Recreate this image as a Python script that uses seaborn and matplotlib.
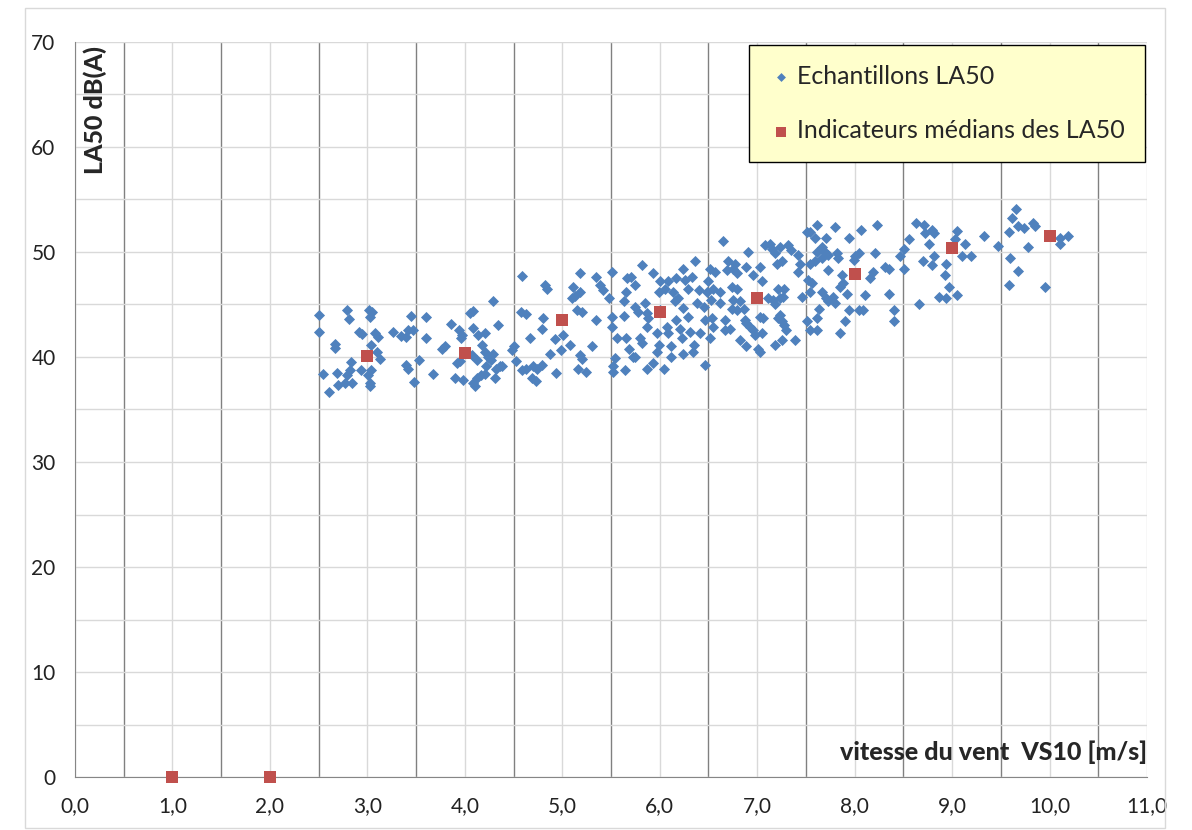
import matplotlib
matplotlib.use("Agg")
import matplotlib.pyplot as plt
import matplotlib.patches as patches
from matplotlib.ticker import FuncFormatter, MultipleLocator
import pandas as pd
import seaborn as sns

# wind speed (m/s) and LA50 samples
vs10 = [
    2.50, 2.50, 2.79, 2.81, 2.67, 2.67, 2.91, 2.94, 3.02, 3.05, 3.03, 3.08, 3.11, 3.04, 3.10, 3.13,
    2.83, 2.82, 2.93, 3.04, 3.01, 2.54, 2.69, 2.79, 2.61, 2.70, 2.77, 2.84, 3.03, 3.03, 3.26, 3.35,
    3.40, 3.42, 3.47, 3.45, 3.60, 3.60, 3.40, 3.42, 3.53, 3.48, 3.67, 3.86, 3.77, 3.80, 3.94, 3.97,
    3.96, 4.05, 4.08, 4.08, 4.14, 4.21, 4.29, 4.34, 3.95, 3.92, 3.90, 3.98, 4.07, 4.12, 4.18, 4.21,
    4.24, 4.29, 4.27, 4.36, 4.32, 4.22, 4.17, 4.12, 4.08, 4.10, 4.31, 4.21,
    4.59, 4.82, 4.84, 4.58, 4.63, 4.67, 4.50, 4.48, 4.53, 4.38, 4.59, 4.63, 4.70, 4.74, 4.79, 4.69,
    4.73, 4.79, 4.80, 4.87, 4.93, 5.01, 4.99, 5.08, 4.94, 5.10, 5.13, 5.11, 5.18, 5.18, 5.15, 5.20,
    5.18, 5.20, 5.16, 5.24, 5.30, 5.35, 5.35, 5.39, 5.42, 5.48, 5.51, 5.51, 5.51, 5.56, 5.54, 5.52,
    5.52, 5.64, 5.65, 5.68, 5.63, 5.63, 5.65, 5.66, 5.71, 5.75, 5.75, 5.73, 5.80, 5.82, 5.75, 5.78,
    5.85, 5.87, 5.88, 5.87, 5.82, 5.93, 5.87, 5.93, 5.97, 5.99, 5.97, 6.04, 6.00, 6.05, 5.99, 6.09,
    6.00, 6.07, 6.09, 6.12, 6.12, 6.17, 6.21, 6.23, 6.24, 6.16, 6.14, 6.19, 6.24, 6.17, 6.24, 6.26,
    6.29, 6.33, 6.36, 6.29, 6.31, 6.35, 6.34, 6.41, 6.38, 6.40,
    6.65, 6.46, 6.52, 6.57, 6.50, 6.55, 6.48, 6.62, 6.53, 6.62, 6.45, 6.46, 6.54, 6.55, 6.52, 6.67,
    6.72, 6.67, 6.70, 6.69, 6.75, 6.77, 6.79, 6.74, 6.79, 6.75, 6.82, 6.74, 6.79, 6.86, 6.89, 6.91,
    6.96, 7.03, 7.05, 6.88, 6.89, 6.93, 6.96, 7.05, 6.98, 7.03, 7.06, 6.82, 6.89, 7.01, 7.03, 7.08,
    7.13, 7.15, 7.18, 7.23, 7.20, 7.25, 7.11, 7.16, 7.23, 7.18, 7.27, 7.21, 7.28, 7.23, 7.21, 7.25,
    7.28, 7.30, 7.18, 7.25, 7.39, 7.32, 7.35, 7.42, 7.44, 7.42, 7.46, 7.51, 7.54, 7.61, 7.51, 7.54,
    7.59, 7.61, 7.66, 7.61, 7.70, 7.59, 7.66, 7.54, 7.71, 7.73, 7.52, 7.56, 7.54, 7.66, 7.63, 7.61,
    7.73, 7.71, 7.73, 7.78, 7.80, 7.82, 7.80, 7.83, 7.87, 7.85, 7.88, 7.92, 7.94, 8.00, 8.04, 8.07,
    7.99, 8.11, 8.04, 8.09, 7.94, 7.90, 7.85, 8.19, 8.16, 8.21, 8.23, 8.31, 8.35, 8.35, 8.40, 8.40,
    8.63, 8.71, 8.72, 8.79, 8.81, 8.56, 8.76, 8.51, 8.47, 8.51, 8.70, 8.79, 8.81, 8.94, 8.93, 8.97,
    8.87, 8.94, 9.05, 8.66, 9.05, 9.03, 9.13, 9.10, 9.19, 9.33, 9.47, 9.58, 9.61, 9.66, 9.68, 9.74,
    9.83, 9.85, 9.78, 9.59, 9.68, 9.58, 9.95, 10.11, 10.11, 10.19,
]
la50 = [
    44.0, 42.4, 44.5, 43.6, 41.2, 40.9, 42.4, 42.2, 44.5, 44.3, 43.8, 42.3, 41.9, 41.1, 40.5, 39.8,
    39.5, 38.8, 38.8, 38.8, 38.3, 38.4, 38.5, 38.3, 36.7, 37.3, 37.5, 37.5, 37.5, 37.2, 42.4, 42.0,
    41.9, 42.6, 42.6, 43.9, 43.8, 41.8, 39.2, 38.9, 39.7, 37.6, 38.4, 43.1, 40.8, 41.0, 42.6, 42.1,
    41.8, 44.2, 44.4, 42.8, 42.1, 42.3, 45.3, 43.0, 39.6, 39.4, 38.0, 37.8, 40.2, 39.7, 41.1, 40.5,
    40.0, 40.3, 39.7, 39.1, 38.9, 39.1, 38.3, 38.0, 37.5, 37.2, 38.0, 38.4,
    47.7, 46.9, 46.5, 44.3, 44.1, 41.8, 41.0, 40.7, 39.6, 39.1, 38.8, 38.9, 39.1, 38.9, 39.2, 38.0,
    37.7, 42.7, 43.7, 40.3, 41.7, 42.1, 40.7, 41.1, 38.5, 45.6, 45.8, 46.7, 46.2, 48.0, 44.5, 44.3,
    40.2, 39.8, 38.9, 38.6, 41.0, 43.5, 47.6, 46.9, 46.4, 45.6, 48.1, 43.8, 42.9, 41.8, 39.9, 39.1,
    38.6, 38.8, 41.8, 40.8, 43.9, 45.3, 46.2, 47.5, 47.6, 46.9, 40.0, 40.0, 41.8, 41.3, 44.8, 44.3,
    45.1, 44.2, 43.7, 42.9, 48.8, 48.0, 38.9, 39.4, 42.3, 41.1, 40.5, 38.9, 47.2, 46.5, 46.2, 47.2,
    44.5, 42.9, 42.3, 41.0, 40.0, 43.5, 42.7, 41.8, 40.3, 45.3, 46.2, 45.6, 44.7, 47.5, 48.4, 47.3,
    46.5, 47.6, 49.1, 43.8, 42.4, 41.1, 40.5, 42.3, 45.1, 46.4,
    51.0, 39.2, 48.4, 48.1, 47.2, 46.5, 46.2, 46.2, 45.4, 45.1, 44.8, 43.5, 43.7, 42.9, 41.8, 43.5,
    42.7, 42.6, 49.1, 48.3, 48.4, 48.9, 48.0, 46.7, 46.5, 45.4, 45.3, 44.6, 44.5, 44.6, 48.6, 50.0,
    47.8, 48.6, 47.2, 43.5, 43.2, 42.9, 42.6, 42.3, 42.1, 43.8, 43.7, 41.6, 41.0, 40.8, 40.5, 50.7,
    50.8, 50.3, 49.9, 50.5, 48.9, 49.1, 45.6, 45.4, 45.6, 45.0, 45.7, 46.5, 46.5, 44.0, 43.7, 43.4,
    43.0, 42.6, 41.1, 41.6, 41.6, 50.7, 50.2, 49.7, 48.9, 48.1, 45.7, 43.4, 42.6, 42.6, 51.9, 51.9,
    51.3, 52.6, 50.5, 50.0, 50.0, 49.1, 49.4, 48.9, 51.3, 49.7, 47.3, 47.0, 46.2, 46.2, 44.6, 43.7,
    48.3, 45.6, 45.3, 45.7, 45.1, 49.9, 52.4, 49.4, 47.8, 46.7, 47.0, 46.0, 51.3, 49.6, 49.9, 52.1,
    49.2, 45.9, 44.5, 44.5, 44.5, 43.4, 42.3, 48.1, 47.5, 49.9, 52.6, 48.6, 48.4, 46.0, 44.5, 43.4,
    52.8, 52.6, 51.8, 52.1, 51.8, 51.2, 50.8, 50.3, 49.6, 48.4, 49.1, 48.8, 49.6, 48.9, 47.8, 46.7,
    45.7, 45.6, 45.9, 45.0, 52.0, 51.2, 50.8, 49.6, 49.6, 51.5, 50.6, 51.9, 53.2, 54.1, 52.5, 52.3,
    52.8, 52.5, 50.5, 49.4, 48.2, 46.9, 46.7, 51.3, 50.8, 51.5,
]

# median indicator per wind-speed class
vs10_classes = [1, 2, 3, 4, 5, 6, 7, 8, 9, 10]
la50_medians = [0.0, 0.0, 40.1, 40.4, 43.5, 44.3, 45.6, 47.9, 50.4, 51.5]

samples = pd.DataFrame({"vs10": vs10, "la50": la50})
medians = pd.DataFrame({"vs10": vs10_classes, "la50": la50_medians})

sns.set_style("white")
plt.rcParams['font.family'] = ['Lato', 'DejaVu Sans']

fig = plt.figure(figsize=(11.92, 8.30), dpi=100)
ax = fig.add_axes([75 / 1192, 1 - 777 / 830, 1072 / 1192, 735 / 830])

sns.scatterplot(data=samples, x="vs10", y="la50", marker="D", color="#4F81BD",
                s=32, linewidth=0, ax=ax, label="Echantillons LA50", zorder=3)
sns.scatterplot(data=medians, x="vs10", y="la50", marker="s", color="#C0504D",
                s=70, linewidth=0, ax=ax, label="Indicateurs médians des LA50",
                zorder=4, clip_on=False)

ax.set_xlim(0, 11)
ax.set_ylim(0, 70)
ax.xaxis.set_major_locator(MultipleLocator(1))
ax.xaxis.set_minor_locator(MultipleLocator(0.5))
ax.yaxis.set_major_locator(MultipleLocator(10))
ax.yaxis.set_minor_locator(MultipleLocator(5))
ax.xaxis.set_major_formatter(FuncFormatter(lambda v, p: f"{v:.1f}".replace('.', ',')))
ax.yaxis.set_major_formatter(FuncFormatter(lambda v, p: f"{v:.0f}"))

ax.grid(which='major', axis='x', color='#D9D9D9', linewidth=1)
ax.grid(which='minor', axis='x', color='#808080', linewidth=1)
ax.grid(which='both', axis='y', color='#D9D9D9', linewidth=1)
ax.set_axisbelow(True)

for side in ['top', 'right']:
    ax.spines[side].set_visible(False)
for side in ['left', 'bottom']:
    ax.spines[side].set_color('#868686')
ax.tick_params(which='major', direction='out', length=6, color='#868686',
               labelsize=15, labelcolor='#222222', pad=8)
ax.tick_params(which='minor', length=0)

ax.set_xlabel("")
ax.set_ylabel("")
ax.text(1.0, 0.034, "vitesse du vent  VS10 [m/s]", transform=ax.transAxes,
        ha='right', va='center', fontsize=18, fontweight='black')
ax.text(0.019, 0.907, "LA50 dB(A)", transform=ax.transAxes, rotation=90,
        ha='center', va='center', fontsize=18, fontweight='black')

leg = ax.legend(loc='upper right', bbox_to_anchor=(1145 / 1192, 1 - 45 / 830),
                bbox_transform=fig.transFigure, fontsize=18, frameon=True,
                fancybox=False, framealpha=1, facecolor='#FFFFCC', edgecolor='black',
                labelspacing=1.25, handletextpad=0.15, borderpad=0.8, handlelength=1.0,
                markerscale=0.8, borderaxespad=0)
leg.get_frame().set_linewidth(1)

fig.patches.append(patches.Rectangle((25 / 1192, 0.002), 1140 / 1192, 1 - 8 / 830 - 0.002,
                                     transform=fig.transFigure, fill=False,
                                     edgecolor='#D9D9D9', linewidth=1))

fig.savefig('out.png', dpi=100)
